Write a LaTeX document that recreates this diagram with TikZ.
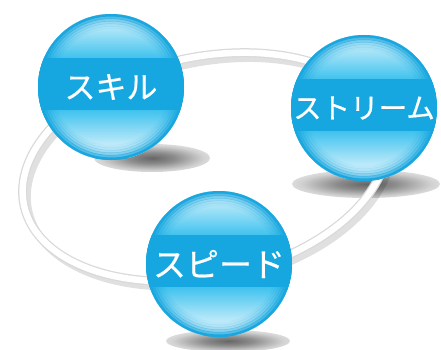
\documentclass[tikz,border=0pt]{standalone}
\usepackage{fontspec}
\newfontfamily\cjk[FakeBold=0.6]{Noto Sans CJK JP}
\definecolor{bandblue}{HTML}{17A7E0}
\definecolor{rimblue}{HTML}{1AA6DE}
\definecolor{captop}{HTML}{E8F8FD}
\definecolor{capmid}{HTML}{3FC2EE}
\definecolor{capbot}{HTML}{F0FAFE}
\pgfdeclareradialshading{softshadow}{\pgfpoint{0bp}{0bp}}{color(0bp)=(black!60); color(10bp)=(black!45); color(22bp)=(black!18); color(36bp)=(white); color(50bp)=(white)}
\tikzset{
  ballbg/.pic={
    \begin{scope}
      \clip (0,0) circle (73pt);
      \fill[bandblue] (-80,-80) rectangle (80,80);
      \shade[top color=captop, bottom color=capmid] (-80,-74) rectangle (80,-29);
      \shade[top color=capmid, bottom color=capbot] (-80,23) rectangle (80,70);
      \draw[rimblue, line width=3pt] (0,0) circle (72pt);
      \draw[rimblue, line width=3pt, opacity=.7] (0,0) circle (69.5pt);
      \draw[rimblue, line width=3pt, opacity=.45] (0,0) circle (67pt);
      \draw[rimblue, line width=3pt, opacity=.28] (0,0) circle (64.5pt);
      \draw[rimblue, line width=3pt, opacity=.15] (0,0) circle (62pt);
      \draw[rimblue, line width=3pt, opacity=.07] (0,0) circle (59.5pt);
      \fill[bandblue] (-80,-29) rectangle (80,23);
    \end{scope}
  },
  balltext/.style={circle, minimum size=146pt, inner sep=0pt, text=white,
    font=\cjk\fontsize{31}{31}\selectfont},
  shadowblob/.style={shading=softshadow},
  ringshadow/.style={draw=black, line width=8pt, opacity=.12},
  ringedge/.style={draw=black!15, line width=9pt},
  ringcore/.style={draw=white, line width=6.5pt}
}
\begin{document}
\begin{tikzpicture}[x=1pt,y=-1pt]
\useasboundingbox (0,0) rectangle (441,350);
\fill[white] (0,0) rectangle (441,350);
% sphere shadows
\shade[shadowblob] (152,158) ellipse [x radius=58pt, y radius=14pt];
\shade[shadowblob] (366,184) ellipse [x radius=74pt, y radius=14pt];
\shade[shadowblob] (228,341) ellipse [x radius=62pt, y radius=11pt];
% ring
\coordinate (rc) at (205,167);
\begin{scope}[rotate around={12:(rc)}]
  \draw[ringshadow] ([shift={(3,6)}]rc) ellipse [x radius=185pt, y radius=110pt];
  \draw[ringedge] (rc) ellipse [x radius=185pt, y radius=110pt];
  \draw[ringcore] (rc) ellipse [x radius=185pt, y radius=110pt];
\end{scope}
% spheres
\pic at (111,87) {ballbg};
\pic at (364,108) {ballbg};
\pic at (219,264) {ballbg};
\node[balltext] (skill) at (111,87) {スキル};
\node[balltext, font=\cjk\fontsize{28.5}{28.5}\selectfont] (stream) at (364,108) {ストリーム};
\node[balltext, font=\cjk\fontsize{33}{33}\selectfont] (speed) at (219,264) {スピード};
\end{tikzpicture}
\end{document}
